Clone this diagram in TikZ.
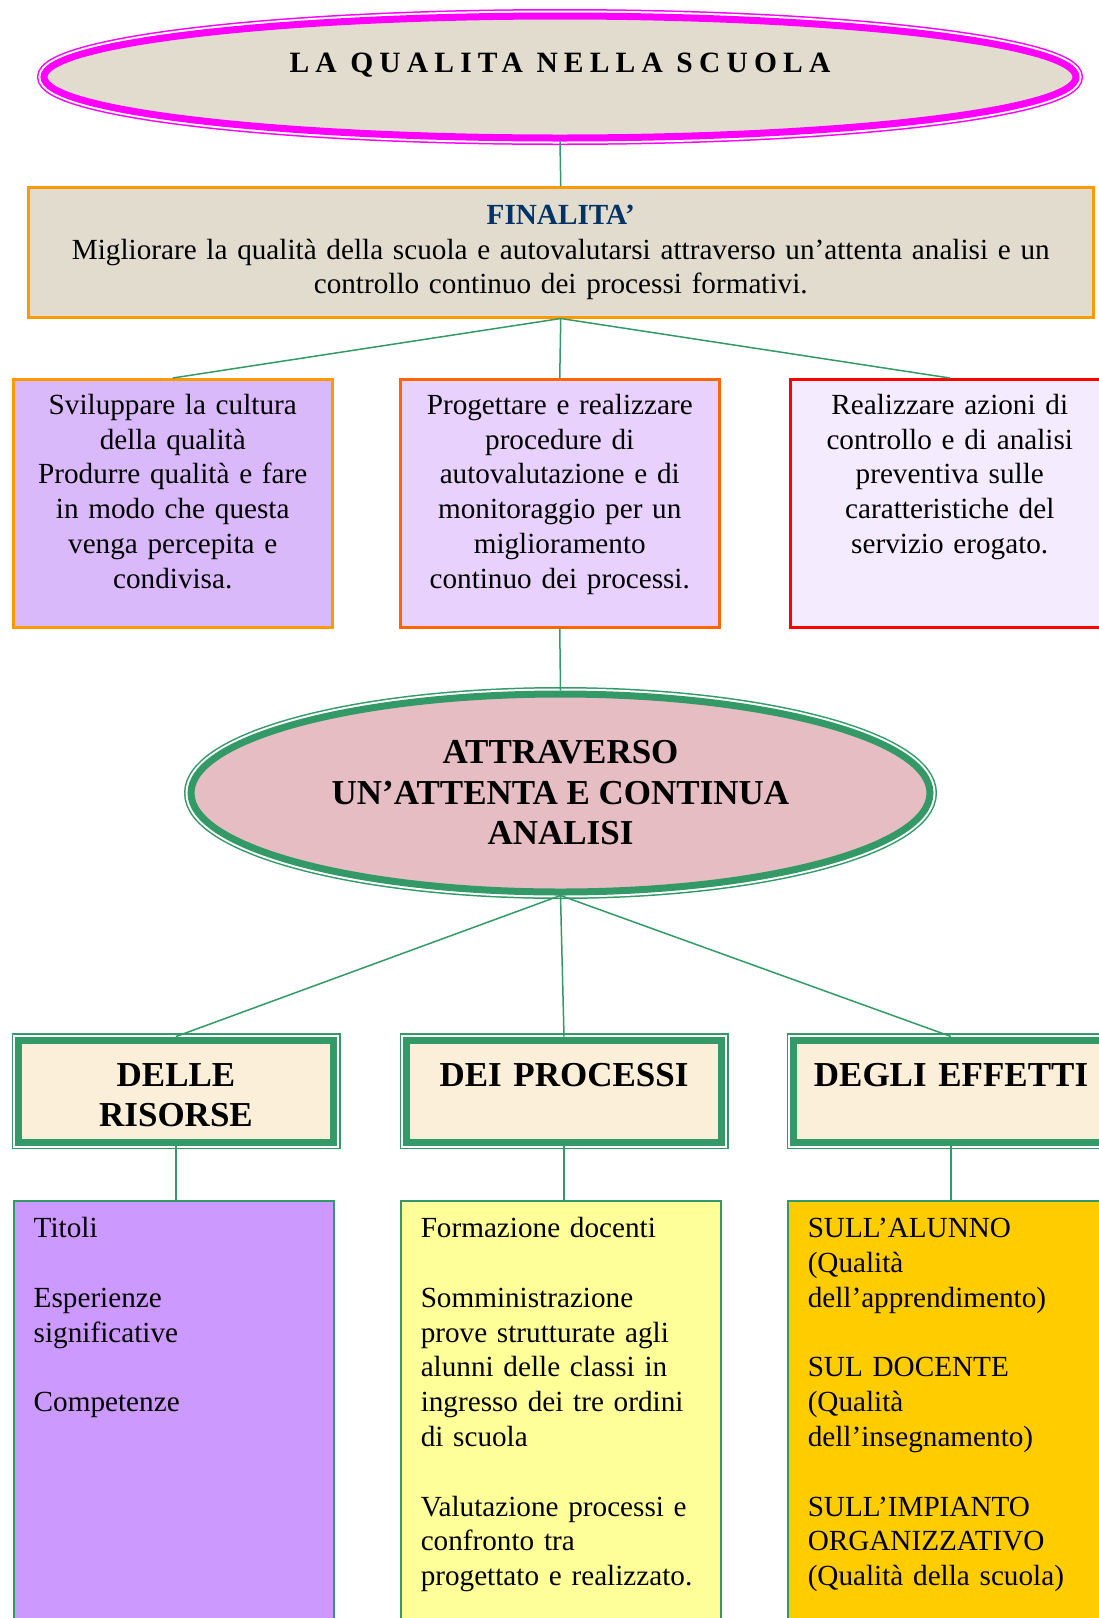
\documentclass[tikz,border=0pt]{standalone}
\usepackage{fontspec}
\setmainfont{Liberation Serif}
\usepackage{tikz}
\usetikzlibrary{shapes.geometric}

\definecolor{linegreen}{HTML}{339966}
\definecolor{paper}{HTML}{E2DCCF}
\definecolor{rosepaper}{HTML}{E6BDC3}
\definecolor{cream}{HTML}{FCEFD9}
\definecolor{finblue}{HTML}{003366}
\definecolor{qualmagenta}{HTML}{FF00FF}
\definecolor{finorange}{HTML}{FF9900}
\definecolor{progorange}{HTML}{FF6600}
\definecolor{realred}{HTML}{FF0000}
\definecolor{lilac}{HTML}{DAB9FB}
\definecolor{lilaclight}{HTML}{E8D1FD}
\definecolor{lilacpale}{HTML}{F4EBFE}
\definecolor{risviolet}{HTML}{CC99FF}
\definecolor{procyellow}{HTML}{FFFF99}
\definecolor{effgold}{HTML}{FFCC00}

\tikzset{
  conn/.style={draw=linegreen, line width=1.5pt},
  textbody/.style={font=\fontsize{29.2}{34.8}\selectfont},
  texthead/.style={font=\fontsize{35}{40.5}\selectfont\bfseries},
  twoline/.style={preaction={draw=#1, line width=14pt},
    preaction={draw=white, line width=11pt}, draw=#1, line width=7pt},
  goalbox/.style={textbody, rectangle, anchor=north west, line width=2.5pt,
    inner xsep=5pt, inner ysep=0pt, text width=309pt,
    text height=35pt, text depth=213pt, align=center},
  headbox/.style={texthead, rectangle, anchor=north west, fill=cream,
    twoline=linegreen, inner xsep=4pt, inner ysep=0pt, text width=307pt,
    text height=46pt, text depth=56pt, align=center},
  listbox/.style={textbody, rectangle, anchor=north west, draw=linegreen,
    line width=1.5pt, inner xsep=20pt, inner ysep=0pt, text width=280pt,
    text height=37pt, text depth=393pt, align=left}
}

\begin{document}
\begin{tikzpicture}[x=1pt, y=-1pt]
    \useasboundingbox (0,0) rectangle (1099,1618);
    \clip (0,0) rectangle (1099,1618);

    \node[ellipse, fill=paper, twoline=qualmagenta, minimum width=1032pt,
      minimum height=122pt, inner sep=0pt] (qual) at (560,77) {};
    \node[anchor=base, font=\fontsize{29.5}{34}\selectfont\bfseries\addfontfeature{LetterSpace=21}]
      (qualtit) at (560,72) {LA QUALITA NELLA SCUOLA};

    \node[textbody, rectangle, anchor=north west, fill=paper, draw=finorange,
      line width=2.5pt, inner xsep=5pt, inner ysep=0pt, text width=1055pt,
      text height=37pt, text depth=93pt, align=center] (fin) at (27,186)
      {{\color{finblue}\bfseries FINALITA’}\\
       Migliorare la qualità della scuola e autovalutarsi attraverso un’attenta analisi e un\\
       controllo continuo dei processi formativi.};

    \node[goalbox, fill=lilac, draw=finorange] (svil) at (12,378)
      {Sviluppare la cultura\\della qualità\\Produrre qualità e fare\\in modo che questa\\venga percepita e\\condivisa.};
    \node[goalbox, fill=lilaclight, draw=progorange] (prog) at (399,378)
      {Progettare e realizzare\\procedure di\\autovalutazione e di\\monitoraggio per un\\miglioramento\\continuo dei processi.};
    \node[goalbox, fill=lilacpale, draw=realred] (real) at (789,378)
      {Realizzare azioni di\\controllo e di analisi\\preventiva sulle\\caratteristiche del\\servizio erogato.};

    \node[ellipse, texthead, fill=rosepaper, twoline=linegreen, minimum width=739pt,
      minimum height=198pt, inner sep=0pt, align=center] (att) at (560.5,793)
      {ATTRAVERSO\\UN’ATTENTA E CONTINUA\\ANALISI};

    \node[headbox] (ris) at (15,1036.5) {DELLE\\RISORSE};
    \node[headbox] (pro) at (403,1036.5) {DEI PROCESSI};
    \node[headbox] (eff) at (790,1036.5) {DEGLI EFFETTI};

    \node[listbox, fill=risviolet] (tit) at (13,1200)
      {Titoli\\[34.8pt]Esperienze\\significative\\[34.8pt]Competenze};
    \node[listbox, fill=procyellow] (form) at (400,1200)
      {Formazione docenti\\[34.8pt]Somministrazione\\prove strutturate agli\\alunni delle classi in\\ingresso dei tre ordini\\di scuola\\[34.8pt]Valutazione processi e\\confronto tra\\progettato e realizzato.};
    \node[listbox, fill=effgold] (alu) at (787,1200)
      {SULL’ALUNNO\\(Qualità\\dell’apprendimento)\\[34.8pt]SUL DOCENTE\\(Qualità\\dell’insegnamento)\\[34.8pt]SULL’IMPIANTO\\ORGANIZZATIVO\\(Qualità della scuola)};

    \draw[conn] (qual.south) -- (fin.north);
    \draw[conn] (fin.south) -- (svil.north);
    \draw[conn] (fin.south) -- (prog.north);
    \draw[conn] (fin.south) -- (real.north);
    \draw[conn] (prog.south) -- (att.north);
    \draw[conn] (att.south) -- (ris.north);
    \draw[conn] (att.south) -- (pro.north);
    \draw[conn] (att.south) -- (eff.north);
    \draw[conn] (ris.south) -- (ris.south |- tit.north);
    \draw[conn] (pro.south) -- (pro.south |- form.north);
    \draw[conn] (eff.south) -- (eff.south |- alu.north);
\end{tikzpicture}
\end{document}
